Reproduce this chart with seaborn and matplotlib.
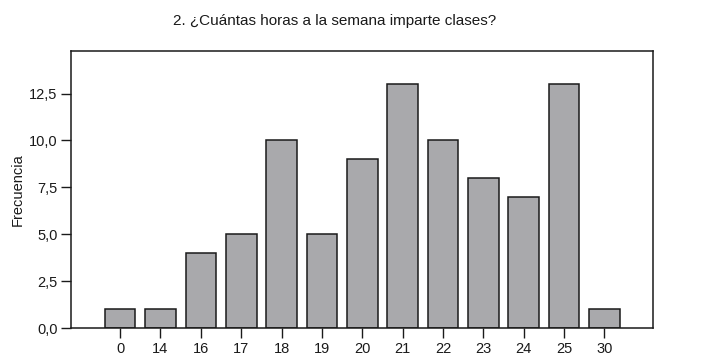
import matplotlib
matplotlib.use("Agg")
import matplotlib.pyplot as plt
import matplotlib.ticker as ticker
import pandas as pd
import seaborn as sns

#%% data
horas = ['0', '14', '16', '17', '18', '19', '20', '21', '22', '23', '24', '25', '30']
frecuencia = [1, 1, 4, 5, 10, 5, 9, 13, 10, 8, 7, 13, 1]
y_ticks = [0, 2.5, 5, 7.5, 10, 12.5]
title = '2. ¿Cuántas horas a la semana imparte clases?'
y_label = 'Frecuencia'

df = pd.DataFrame({'horas': horas, 'frecuencia': frecuencia})

#%% style
sns.set_style('white')
plt.rcParams['font.family'] = ['Liberation Sans', 'DejaVu Sans']

fig = plt.figure(figsize=(7.19, 3.58), dpi=100)
ax = fig.add_axes([71.3 / 719, 1 - 328 / 358, (653.3 - 71.3) / 719, (328 - 51.3) / 358])

sns.barplot(
  data=df, x='horas', y='frecuencia', order=horas,
  color='#a9a9ac', saturation=1, width=0.76,
  edgecolor='#1a1a1a', linewidth=1.1, ax=ax,
)

ax.set_xlim(-1.21, len(horas) - 1 + 1.21)
ax.set_ylim(0, 14.75)
ax.set_yticks(y_ticks)
ax.yaxis.set_major_formatter(ticker.FuncFormatter(lambda v, p: f'{v:.1f}'.replace('.', ',')))
ax.set_xlabel('')
ax.set_ylabel(y_label, fontsize=10.5, color='#1a1a1a', labelpad=3)
ax.tick_params(axis='both', direction='out', length=7, width=1, color='#1a1a1a',
               labelsize=10.5, labelcolor='#1a1a1a', pad=3)
ax.tick_params(axis='x', bottom=True)
ax.tick_params(axis='y', left=True)
for s in ax.spines.values():
  s.set_visible(True)
  s.set_color('#1a1a1a')
  s.set_linewidth(1.1)

fig.text(334.7 / 719, 1 - 21 / 358, title, ha='center', va='center', fontsize=11, color='#1a1a1a')

fig.savefig('out.png', dpi=100)
